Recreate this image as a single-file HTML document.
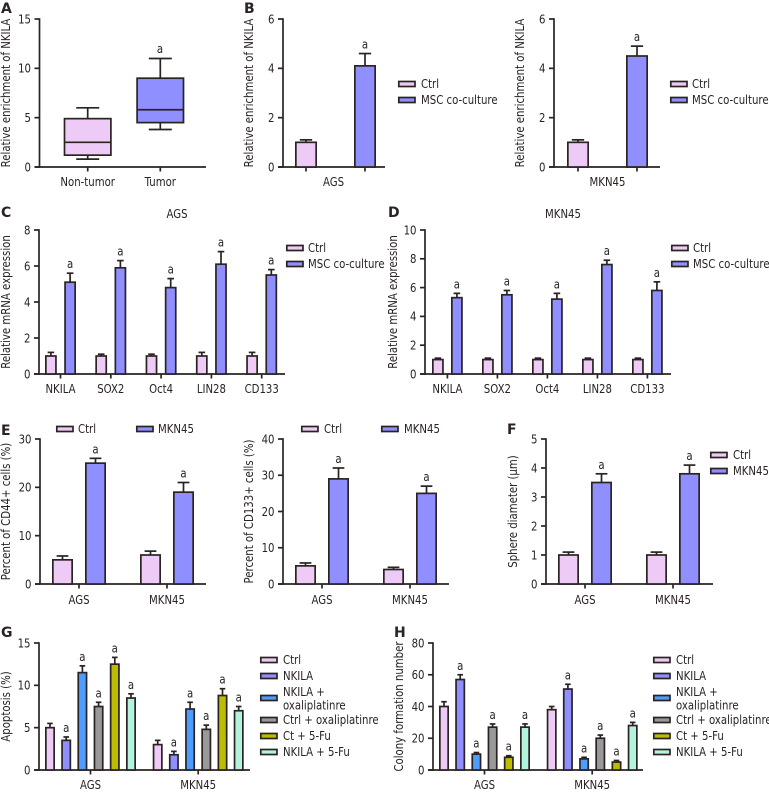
<!DOCTYPE html>
<html lang="en">
<head>
<meta charset="utf-8">
<title>NKILA figure panels</title>
<style>
html,body{margin:0;padding:0;background:#fff;}
svg{display:block;}
text{font-family:"DejaVu Sans","Liberation Sans",sans-serif;fill:#2a2322;}
</style>
</head>
<body>
<svg id="figure" xmlns="http://www.w3.org/2000/svg" width="769" height="793" viewBox="0 0 769 793"></svg>
<script>
// ---- Panel A ----
const aCategories = ['Non-tumor', 'Tumor'];
const aLow = [0.8, 3.8];
const aQ1 = [1.2, 4.5];
const aMedian = [2.5, 5.8];
const aQ3 = [4.9, 9];
const aHigh = [6, 11];
const aTicks = [0, 5, 10, 15];
// ---- Panel B ----
const b1Categories = ['AGS'];
const b1Ctrl = [1];
const b1CtrlErr = [1.1];
const b1Msc = [4.1];
const b1MscErr = [4.6];
const b2Categories = ['MKN45'];
const b2Ctrl = [1];
const b2CtrlErr = [1.1];
const b2Msc = [4.5];
const b2MscErr = [4.9];
const bTicks = [0, 2, 4, 6];
// ---- Panel C ----
const genes = ['NKILA', 'SOX2', 'Oct4', 'LIN28', 'CD133'];
const cCtrl = [1, 1, 1, 1, 1];
const cCtrlErr = [1.2, 1.1, 1.1, 1.2, 1.2];
const cMsc = [5.1, 5.9, 4.8, 6.1, 5.5];
const cMscErr = [5.6, 6.3, 5.3, 6.8, 5.8];
const cTicks = [0, 2, 4, 6, 8];
// ---- Panel D ----
const dCtrl = [1, 1, 1, 1, 1];
const dCtrlErr = [1.1, 1.1, 1.1, 1.1, 1.1];
const dMsc = [5.3, 5.5, 5.2, 7.6, 5.8];
const dMscErr = [5.6, 5.8, 5.6, 7.9, 6.4];
const dTicks = [0, 2, 4, 6, 8, 10];
// ---- Panel E ----
const cellLines = ['AGS', 'MKN45'];
const e1Ctrl = [5, 6];
const e1CtrlErr = [5.8, 6.8];
const e1Mkn = [25, 19];
const e1MknErr = [26, 21];
const e1Ticks = [0, 10, 20, 30];
const e2Ctrl = [5, 4];
const e2CtrlErr = [5.8, 4.6];
const e2Mkn = [29, 25];
const e2MknErr = [32, 27];
const e2Ticks = [0, 10, 20, 30, 40];
// ---- Panel F ----
const fCtrl = [1, 1];
const fCtrlErr = [1.1, 1.1];
const fMkn = [3.5, 3.8];
const fMknErr = [3.8, 4.1];
const fTicks = [0, 1, 2, 3, 4, 5];
// ---- Panel G ----
const gCtrl = [5, 3];
const gCtrlErr = [5.5, 3.5];
const gNkila = [3.5, 1.8];
const gNkilaErr = [3.9, 2.2];
const gNkilaOx = [11.5, 7.2];
const gNkilaOxErr = [12.3, 8];
const gCtrlOx = [7.5, 4.8];
const gCtrlOxErr = [8, 5.3];
const gCtFu = [12.5, 8.8];
const gCtFuErr = [13.3, 9.6];
const gNkilaFu = [8.5, 7];
const gNkilaFuErr = [9, 7.5];
const gTicks = [0, 5, 10, 15];
// ---- Panel H ----
const hCtrl = [40, 38];
const hCtrlErr = [43, 40];
const hNkila = [57, 51];
const hNkilaErr = [60, 54];
const hNkilaOx = [10, 7];
const hNkilaOxErr = [11, 8];
const hCtrlOx = [27, 20];
const hCtrlOxErr = [29, 22];
const hCtFu = [8, 5];
const hCtFuErr = [9, 6];
const hNkilaFu = [27, 28];
const hNkilaFuErr = [29, 30];
const hTicks = [0, 20, 40, 60, 80];

const PINK = '#eecbf6', PERI = '#8f8fff', BLUE = '#4d9cff', GRAY = '#999999', OLIVE = '#bdbd00', MINT = '#b3f5dc';
const INK = '#2a2322';
const WIDTH_SCALE = 0.825;
const BASE_FONT = 12.3;
const STROKE = 1.7;
const NS = 'http://www.w3.org/2000/svg';
const root = document.getElementById('figure');

function addGroup(name) {
  const g = document.createElementNS(NS, 'g');
  
  
  root.appendChild(g);
  return g;
}
function addLine(parent, name, x1, y1, x2, y2, sw) {
  const l = document.createElementNS(NS, 'line');
  
  
  l.setAttribute('x1', x1);
  l.setAttribute('y1', y1);
  l.setAttribute('x2', x2);
  l.setAttribute('y2', y2);
  l.setAttribute('stroke', INK);
  l.setAttribute('stroke-width', sw || STROKE);
  parent.appendChild(l);
  return l;
}
function addRect(parent, name, x, y, w, h, fill) {
  const r = document.createElementNS(NS, 'rect');
  
  
  r.setAttribute('x', x);
  r.setAttribute('y', y);
  r.setAttribute('width', w);
  r.setAttribute('height', h);
  r.setAttribute('fill', fill);
  r.setAttribute('stroke', INK);
  r.setAttribute('stroke-width', STROKE);
  parent.appendChild(r);
  return r;
}
function addText(parent, name, str, x, y, anchor, size, rotate) {
  const t = document.createElementNS(NS, 'text');
  
  
  t.setAttribute('x', x);
  t.setAttribute('y', y);
  t.setAttribute('text-anchor', anchor || 'start');
  t.setAttribute('font-size', size || BASE_FONT);
  if (rotate) t.setAttribute('transform', 'rotate(-90 ' + x + ' ' + y + ')');
  t.textContent = str;
  parent.appendChild(t);
  const len = t.getComputedTextLength();
  if (len > 0) {
    t.setAttribute('textLength', (len * WIDTH_SCALE).toFixed(2));
    t.setAttribute('lengthAdjust', 'spacingAndGlyphs');
  }
  return t;
}
function panelLetter(letter, x, y) {
  const t = document.createElementNS(NS, 'text');
  
  
  t.setAttribute('x', x);
  t.setAttribute('y', y);
  t.setAttribute('font-size', 14);
  t.setAttribute('font-weight', 'bold');
  t.textContent = letter;
  root.appendChild(t);
}
function legendEntry(parent, label, sx, sy, tx, fill, extraLine) {
  addRect(parent, 'legend-swatch-' + label, sx + 0.8, sy - 2.5, 16.2, 5, fill);
  if (extraLine) {
    addText(parent, 'legend-label-' + label, label, tx, sy - 2);
    addText(parent, 'legend-label-' + extraLine, extraLine, tx, sy + 11.5);
  } else {
    addText(parent, 'legend-label-' + label, label, tx, sy + 4);
  }
}
function drawAxes(g, p, yScale) {
  addLine(g, 'y-axis', p.axisX, yScale(p.yMax) - 0.8, p.axisX, p.y0 + 0.8);
  addLine(g, 'x-axis', p.axisX - 5, p.y0, p.xEnd, p.y0);
  p.ticks.forEach(function (v) {
    addLine(g, 'y-tick-' + v, p.axisX - 5, yScale(v), p.axisX, yScale(v));
    addText(g, 'y-tick-label-' + v, String(v), p.axisX - 8.5, yScale(v) + 4.3, 'end');
  });
  addText(g, 'y-axis-title', p.yTitle, p.titleX, (yScale(p.yMax) + p.y0) / 2 + (p.titleShift || 0), 'middle', BASE_FONT, true);
}
function drawBars(p) {
  const g = addGroup('chart-' + p.name);
  const yScale = function (v) { return p.y0 - (v / p.yMax) * (p.y0 - p.yTop); };
  drawAxes(g, p, yScale);
  const n = p.series.length;
  const span = (n - 1) * p.step + p.barW;
  p.categories.forEach(function (cat, ci) {
    const gx = p.start + ci * p.groupStep;
    const tickX = gx + span / 2;
    if (p.tickPerBar) {
      p.series.forEach(function (s, si) {
        const bx = gx + si * p.step + p.barW / 2;
        addLine(g, 'x-tick', bx, p.y0, bx, p.y0 + 4.5);
      });
    } else {
      addLine(g, 'x-tick-' + cat, tickX, p.y0, tickX, p.y0 + 4.5);
    }
    addText(g, 'x-tick-label-' + cat, cat, tickX + (p.labelShift ? p.labelShift(ci) : 0), p.y0 + p.labelDy, 'middle');
    p.series.forEach(function (s, si) {
      const bx = gx + si * p.step;
      const cx = bx + p.barW / 2;
      const top = yScale(s.values[ci]);
      const errY = yScale(s.err[ci]);
      const cap = p.barW * 0.28;
      addLine(g, 'error-stem-' + s.key + '-' + cat, cx, top, cx, errY);
      addLine(g, 'error-cap-' + s.key + '-' + cat, cx - cap, errY, cx + cap, errY);
      addRect(g, 'bar-' + s.key + '-' + cat, bx + 0.85, top, p.barW - 1.7, p.y0 - top, s.fill);
      if (s.sig) addText(g, 'significance-' + s.key + '-' + cat, 'a', cx, errY - 5, 'middle');
    });
  });
  return g;
}
function drawBox() {
  const g = addGroup('chart-a');
  const p = { axisX: 39.5, y0: 167, yTop: 19, yMax: 15, xEnd: 206, ticks: aTicks, yTitle: 'Relative enrichment of NKILA', titleX: 10 };
  const yScale = function (v) { return p.y0 - (v / p.yMax) * (p.y0 - p.yTop); };
  drawAxes(g, p, yScale);
  const fills = [PINK, PERI];
  aCategories.forEach(function (cat, i) {
    const cx = 87.7 + i * 72.6;
    const half = 23.2;
    addLine(g, 'x-tick-' + cat, cx, p.y0, cx, p.y0 + 4.5);
    addText(g, 'x-tick-label-' + cat, cat, cx, 186, 'middle');
    addLine(g, 'whisker-' + cat, cx, yScale(aLow[i]), cx, yScale(aHigh[i]));
    addLine(g, 'whisker-low-cap-' + cat, cx - 11.5, yScale(aLow[i]), cx + 11.5, yScale(aLow[i]));
    addLine(g, 'whisker-high-cap-' + cat, cx - 11.5, yScale(aHigh[i]), cx + 11.5, yScale(aHigh[i]));
    addRect(g, 'box-' + cat, cx - half, yScale(aQ3[i]), half * 2, yScale(aQ1[i]) - yScale(aQ3[i]), fills[i]);
    addLine(g, 'median-' + cat, cx - half, yScale(aMedian[i]), cx + half, yScale(aMedian[i]));
  });
  addText(g, 'significance-Tumor', 'a', 160, 53, 'middle');
}

panelLetter('A', 1, 13);
panelLetter('B', 244, 13);
panelLetter('C', 1, 217);
panelLetter('D', 388, 217);
panelLetter('E', 1, 435);
panelLetter('F', 507, 434);
panelLetter('G', 1, 637);
panelLetter('H', 394, 637);

drawBox();

const bCommon = { y0: 167, yTop: 19, yMax: 6, ticks: bTicks, barW: 22, step: 59, groupStep: 0, tickPerBar: true, labelDy: 19, yTitle: 'Relative enrichment of NKILA' };
const gB1 = drawBars(Object.assign({}, bCommon, { name: 'b-ags', axisX: 283, xEnd: 385, start: 295, titleX: 253, categories: b1Categories, labelShift: function () { return -2; },
  series: [ { key: 'ctrl', fill: PINK, values: b1Ctrl, err: b1CtrlErr, sig: false }, { key: 'msc', fill: PERI, values: b1Msc, err: b1MscErr, sig: true } ] }));
legendEntry(gB1, 'Ctrl', 398, 84, 421, PINK);
legendEntry(gB1, 'MSC co-culture', 398, 100, 421, PERI);
const gB2 = drawBars(Object.assign({}, bCommon, { name: 'b-mkn45', axisX: 554, xEnd: 660, start: 567, titleX: 524, categories: b2Categories,
  series: [ { key: 'ctrl', fill: PINK, values: b2Ctrl, err: b2CtrlErr, sig: false }, { key: 'msc', fill: PERI, values: b2Msc, err: b2MscErr, sig: true } ] }));
legendEntry(gB2, 'Ctrl', 670, 84, 692, PINK);
legendEntry(gB2, 'MSC co-culture', 670, 100, 692, PERI);

const gC = drawBars({ name: 'c-ags', axisX: 39, y0: 374, yTop: 230, yMax: 8, xEnd: 285, ticks: cTicks, start: 45, barW: 11.8, step: 19.2, groupStep: 50.3, labelDy: 19, yTitle: 'Relative mRNA expression', titleX: 10, categories: genes,
  series: [ { key: 'ctrl', fill: PINK, values: cCtrl, err: cCtrlErr, sig: false }, { key: 'msc', fill: PERI, values: cMsc, err: cMscErr, sig: true } ] });
addText(gC, 'chart-title-ags', 'AGS', 177, 218, 'middle');
legendEntry(gC, 'Ctrl', 286, 248, 308, PINK);
legendEntry(gC, 'MSC co-culture', 286, 264, 308, PERI);

const gD = drawBars({ name: 'd-mkn45', axisX: 425, y0: 374, yTop: 230, yMax: 10, xEnd: 671, ticks: dTicks, start: 432, barW: 11.8, step: 19, groupStep: 50, labelDy: 19, yTitle: 'Relative mRNA expression', titleX: 397, categories: genes,
  series: [ { key: 'ctrl', fill: PINK, values: dCtrl, err: dCtrlErr, sig: false }, { key: 'msc', fill: PERI, values: dMsc, err: dMscErr, sig: true } ] });
addText(gD, 'chart-title-mkn45', 'MKN45', 563, 218, 'middle');
legendEntry(gD, 'Ctrl', 671, 248, 693, PINK);
legendEntry(gD, 'MSC co-culture', 671, 264, 693, PERI);

const gE1 = drawBars({ name: 'e-cd44', axisX: 40, y0: 584, yTop: 439, yMax: 30, xEnd: 206, ticks: e1Ticks, start: 52, barW: 21, step: 33, groupStep: 88, labelDy: 20, yTitle: 'Percent of CD44+ cells (%)', titleX: 10, categories: cellLines,
  series: [ { key: 'ctrl', fill: PINK, values: e1Ctrl, err: e1CtrlErr, sig: false }, { key: 'mkn45', fill: PERI, values: e1Mkn, err: e1MknErr, sig: true } ] });
legendEntry(gE1, 'Ctrl', 56, 429, 78, PINK);
legendEntry(gE1, 'MKN45', 136, 429, 158, PERI);
const gE2 = drawBars({ name: 'e-cd133', axisX: 283, y0: 584, yTop: 439, yMax: 40, xEnd: 449, ticks: e2Ticks, start: 295, barW: 21, step: 33, groupStep: 88, labelDy: 20, yTitle: 'Percent of CD133+ cells (%)', titleX: 253, categories: cellLines,
  series: [ { key: 'ctrl', fill: PINK, values: e2Ctrl, err: e2CtrlErr, sig: false }, { key: 'mkn45', fill: PERI, values: e2Mkn, err: e2MknErr, sig: true } ] });
legendEntry(gE2, 'Ctrl', 301, 429, 324, PINK);
legendEntry(gE2, 'MKN45', 381, 429, 404, PERI);

const gF = drawBars({ name: 'f-sphere', axisX: 546, y0: 584, yTop: 439, yMax: 5, xEnd: 713, ticks: fTicks, start: 558, barW: 21, step: 33, groupStep: 88, labelDy: 20, yTitle: 'Sphere diameter (\u03BCm)', titleX: 517, categories: cellLines,
  series: [ { key: 'ctrl', fill: PINK, values: fCtrl, err: fCtrlErr, sig: false }, { key: 'mkn45', fill: PERI, values: fMkn, err: fMknErr, sig: true } ] });
legendEntry(gF, 'Ctrl', 710, 455, 733, PINK);
legendEntry(gF, 'MKN45', 710, 471, 733, PERI);

function drawLegendSix(g, sx, tx) {
  legendEntry(g, 'Ctrl', sx, 660, tx, PINK);
  legendEntry(g, 'NKILA', sx, 676, tx, PERI);
  legendEntry(g, 'NKILA +', sx, 698, tx, BLUE, 'oxaliplatinre');
  legendEntry(g, 'Ctrl + oxaliplatinre', sx, 720, tx, GRAY);
  legendEntry(g, 'Ct + 5-Fu', sx, 736, tx, OLIVE);
  legendEntry(g, 'NKILA + 5-Fu', sx, 752, tx, MINT);
}
const gG = drawBars({ name: 'g-apoptosis', axisX: 39, y0: 770, yTop: 643, yMax: 15, xEnd: 250, ticks: gTicks, start: 45, barW: 10, step: 16.2, groupStep: 107.7, labelDy: 19, yTitle: 'Apoptosis (%)', titleX: 10, categories: cellLines,
  series: [
    { key: 'ctrl', fill: PINK, values: gCtrl, err: gCtrlErr, sig: false },
    { key: 'nkila', fill: PERI, values: gNkila, err: gNkilaErr, sig: true },
    { key: 'nkila-ox', fill: BLUE, values: gNkilaOx, err: gNkilaOxErr, sig: true },
    { key: 'ctrl-ox', fill: GRAY, values: gCtrlOx, err: gCtrlOxErr, sig: true },
    { key: 'ct-fu', fill: OLIVE, values: gCtFu, err: gCtFuErr, sig: true },
    { key: 'nkila-fu', fill: MINT, values: gNkilaFu, err: gNkilaFuErr, sig: true }
  ] });
drawLegendSix(gG, 260, 283);
const gH = drawBars({ name: 'h-colony', axisX: 433, y0: 770, yTop: 643, yMax: 80, xEnd: 643, ticks: hTicks, start: 439, barW: 10, step: 16.2, groupStep: 107.7, labelDy: 19, yTitle: 'Colony formation number', titleX: 403, categories: cellLines,
  series: [
    { key: 'ctrl', fill: PINK, values: hCtrl, err: hCtrlErr, sig: false },
    { key: 'nkila', fill: PERI, values: hNkila, err: hNkilaErr, sig: true },
    { key: 'nkila-ox', fill: BLUE, values: hNkilaOx, err: hNkilaOxErr, sig: true },
    { key: 'ctrl-ox', fill: GRAY, values: hCtrlOx, err: hCtrlOxErr, sig: true },
    { key: 'ct-fu', fill: OLIVE, values: hCtFu, err: hCtFuErr, sig: true },
    { key: 'nkila-fu', fill: MINT, values: hNkilaFu, err: hNkilaFuErr, sig: true }
  ] });
drawLegendSix(gH, 653, 676);
</script>
</body>
</html>
